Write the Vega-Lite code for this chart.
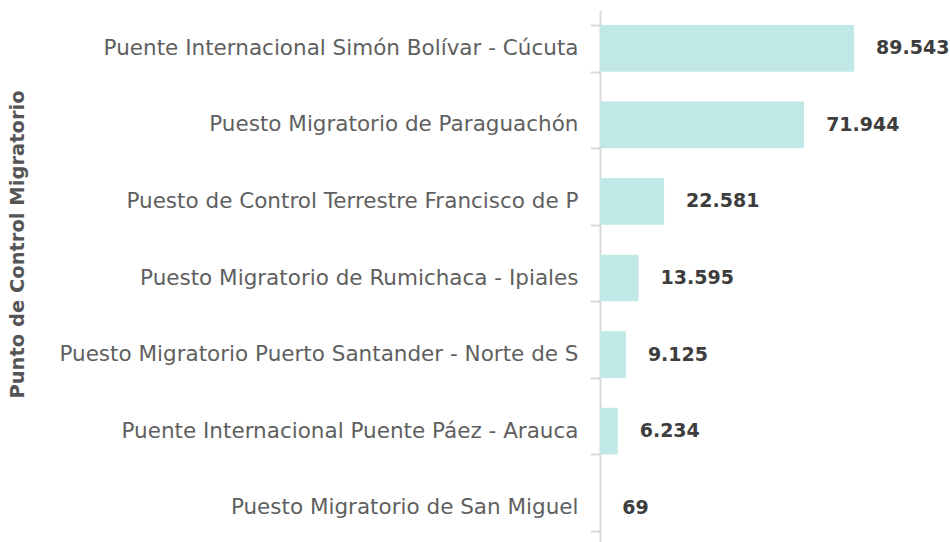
{
  "$schema": "https://vega.github.io/schema/vega-lite/v6.json",
  "autosize": {"type": "none"},
  "padding": {"left": 600, "top": 10, "right": 0, "bottom": 0},
  "width": 349,
  "height": 536,
  "background": "white",
  "config": {
    "view": {"stroke": null},
    "locale": {"number": {"decimal": ",", "thousands": ".", "grouping": [3], "currency": ["$", ""]}}
  },
  "data": {"values": [
    {"punto": "Puente Internacional Simón Bolívar - Cúcuta", "valor": 89543},
    {"punto": "Puesto Migratorio de Paraguachón", "valor": 71944},
    {"punto": "Puesto de Control Terrestre Francisco de P", "valor": 22581},
    {"punto": "Puesto Migratorio de Rumichaca - Ipiales", "valor": 13595},
    {"punto": "Puesto Migratorio Puerto Santander - Norte de S", "valor": 9125},
    {"punto": "Puente Internacional Puente Páez - Arauca", "valor": 6234},
    {"punto": "Puesto Migratorio de San Miguel", "valor": 69}
  ]},
  "encoding": {
    "y": {
      "field": "punto", "type": "nominal", "sort": null,
      "scale": {"paddingInner": 0.39, "paddingOuter": 0.195},
      "axis": {
        "title": "Punto de Control Migratorio",
        "titleFont": "DejaVu Sans", "titleFontSize": 19.5, "titleFontWeight": "bold", "titleColor": "#555555",
        "titleX": -573, "titleY": 234,
        "labelFont": "DejaVu Sans", "labelFontSize": 21.5, "labelColor": "#5f5f5f", "labelLimit": 600,
        "labelPadding": 12, "tickSize": 10, "tickBand": "extent", "tickColor": "#d9d9d9", "tickWidth": 2,
        "domainColor": "#d9d9d9", "domainWidth": 2
      }
    },
    "x": {
      "field": "valor", "type": "quantitative",
      "scale": {"domain": [0, 123000], "nice": false},
      "axis": null
    }
  },
  "layer": [
    {"mark": {"type": "bar", "color": "#bfe8e7"}},
    {
      "mark": {"type": "text", "align": "left", "dx": 22, "font": "DejaVu Sans", "fontSize": 19, "fontWeight": "bold", "color": "#3d3d3d"},
      "encoding": {"text": {"field": "valor", "type": "quantitative", "format": ",d"}}
    }
  ]
}
